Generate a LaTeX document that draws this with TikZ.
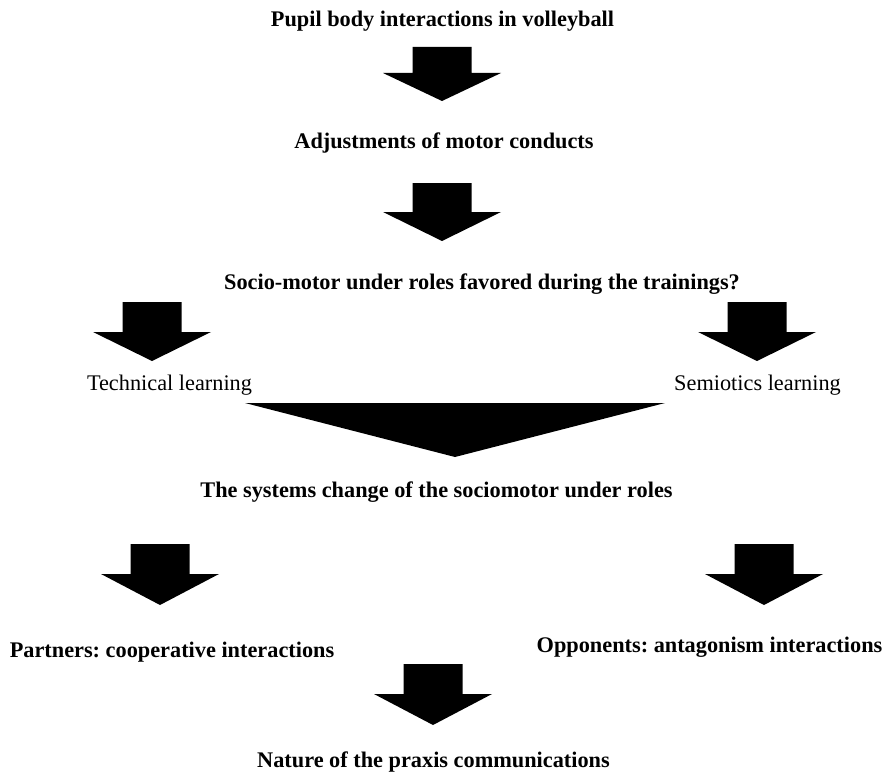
\documentclass[tikz,border=0pt]{standalone}
\usepackage{fontspec}
\setmainfont{Liberation Serif}
\usepackage{tikz}
\usetikzlibrary{positioning}

\tikzset{
  pics/downarrow/.style 2 args={code={%
    \fill (-29.5,0) -- (29.5,0) -- (29.5,#1) -- (59,#1) -- (0,#2)
      -- (-59,#1) -- (-29.5,#1) -- cycle;
  }}
}

\begin{document}
\frenchspacing
\begin{tikzpicture}[
  x=1pt, y=-1pt,
  stage/.style={anchor=base, inner sep=0pt, font=\fontsize{22.3}{27}\selectfont\bfseries},
  learning/.style={anchor=base, inner sep=0pt, font=\fontsize{22.3}{27}\selectfont}
]
\useasboundingbox (0,0) rectangle (886,776);

% levels of the analysis
\node[stage] (title) at (442.5,27) {Pupil body interactions in volleyball};
\node[stage] (adjust) at (444,148) {Adjustments of motor conducts};
\node[stage] (socio) at (482,289) {Socio-motor under roles favored during the trainings?};
\node[learning] (technical) at (169.5,390) {Technical learning};
\node[learning] (semiotics) at (757.5,390) {Semiotics learning};
\node[stage] (systems) at (436.5,497) {The systems change of the sociomotor under roles};
\node[stage] (partners) at (172,657) {Partners: cooperative interactions};
\node[stage] (opponents) at (709.5,652) {Opponents: antagonism interactions};
\node[stage] (nature) at (433.5,767) {Nature of the praxis communications};

% block arrows
\pic at (442,47) {downarrow={26}{54}};
\pic at (442,183) {downarrow={29}{58}};
\pic at (152,302) {downarrow={30}{59}};
\pic at (757,302) {downarrow={30}{59}};
\fill (245,403) -- (665,403) -- (455,457) -- cycle;
\pic at (160,544) {downarrow={30}{61}};
\pic at (764,544) {downarrow={30}{61}};
\pic at (433,664) {downarrow={30}{61}};
\end{tikzpicture}
\end{document}
